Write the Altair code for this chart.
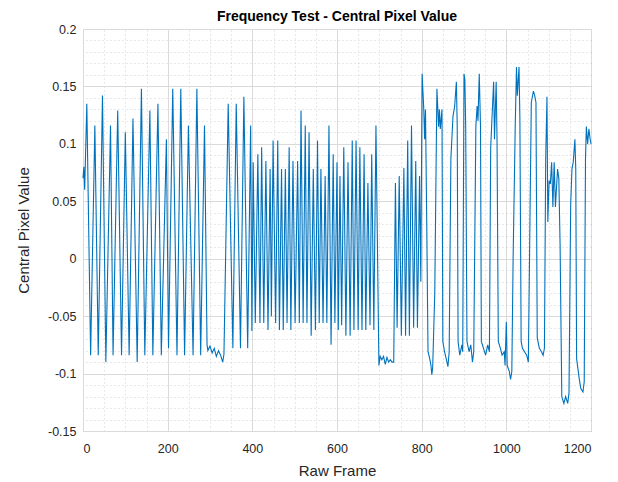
import altair as alt
import pandas as pd

# Key vertices of the trace (frame, value)
frames = [
    0, 2, 4, 9, 18, 28, 36, 46, 54, 65, 71, 82, 91, 100, 109, 118, 128, 138, 146, 158,
    165, 177, 185, 197, 202, 212, 222, 231, 240, 249, 260, 269, 278, 287, 293, 295, 300,
    305, 310, 315, 320, 325, 330, 333, 343, 354, 362, 372, 380, 389, 396,
    399, 402, 407, 413, 418, 422, 427, 432, 437, 442, 445, 449, 455, 460, 464, 469, 473,
    478, 482, 487, 491, 496, 501, 507, 511, 515, 520, 525, 529, 534, 539, 544, 549, 554,
    558, 562, 567, 572, 576, 581, 586, 591, 595, 600,
    603, 607, 611, 616, 621, 626, 631, 636, 640, 645, 650, 654, 659, 664, 668, 673, 678,
    682, 687, 692, 699, 702, 706, 710, 714, 718, 722, 726, 730, 734, 738, 742, 747, 752,
    758, 762, 767, 771, 776, 781, 786, 790, 795, 798,
    801, 805, 807, 809, 812, 815, 819, 822, 824, 826, 831, 836, 840, 842, 844, 848, 850,
    854, 858, 862, 865, 869, 874, 878, 882, 884, 886, 890, 895, 897, 900, 902, 904, 907,
    912, 916, 920, 923, 928, 931, 933, 936, 939, 941, 946, 951, 956, 960, 963, 967, 970,
    972, 976, 978, 981, 986, 990, 995, 997, 1000,
    1002, 1007, 1010, 1013, 1016, 1021, 1024, 1026, 1030, 1032, 1035, 1038, 1043, 1048,
    1052, 1056, 1059, 1064, 1067, 1070, 1073, 1078, 1083, 1087, 1090, 1093, 1096, 1098,
    1101, 1104, 1107, 1110, 1113, 1116, 1121, 1124, 1127, 1131, 1136, 1140, 1145, 1148,
    1152, 1155, 1158, 1162, 1164, 1166, 1172, 1176, 1181, 1184, 1187, 1189, 1192, 1195,
    1198, 1200,
]
values = [
    0.07, 0.08, 0.06, 0.135, -0.084, 0.116, -0.084, 0.142, -0.09, 0.116, -0.084, 0.129,
    -0.084, 0.110, -0.084, 0.122, -0.09, 0.148, -0.084, 0.129, -0.084, 0.135, -0.084,
    0.104, -0.078, 0.148, -0.084, 0.148, -0.084, 0.116, -0.084, 0.148, -0.084, 0.116,
    -0.075, -0.08, -0.076, -0.082, -0.078, -0.085, -0.08, -0.084, -0.09, -0.083, 0.135,
    -0.078, 0.135, -0.078, 0.141, -0.078, 0.116,
    -0.063, 0.084, -0.056, 0.091, -0.056, 0.097, -0.056, 0.085, -0.062, 0.078, -0.05,
    0.103, -0.056, 0.103, -0.062, 0.078, -0.062, 0.078, -0.056, 0.097, -0.062, 0.085,
    -0.056, 0.085, -0.056, 0.129, -0.056, 0.116, -0.056, 0.110, -0.067, 0.078, -0.062,
    0.103, -0.056, 0.078, -0.056, 0.072, -0.056, 0.116, -0.075, 0.091, -0.056, 0.084,
    -0.062, 0.072, -0.058, 0.097, -0.067, 0.084, -0.067, 0.103, -0.062, 0.103, -0.062,
    0.097, -0.062, 0.091, -0.062, 0.066, -0.058, 0.091, -0.062, 0.116, -0.093, -0.085,
    -0.088, -0.085, -0.092, -0.086, -0.09, -0.088, -0.09, -0.09, 0.066, -0.06, 0.072,
    -0.067, 0.079, -0.067, 0.103, -0.067, 0.116, -0.06, 0.085, -0.06, 0.072, -0.02,
    0.161, 0.13, 0.104, 0.13, 0.03, -0.081, -0.087, -0.093, -0.101, -0.095, -0.029, 0.148,
    0.115, 0.13, 0.113, 0.13, -0.072, -0.081, -0.087, -0.094, -0.081, 0.087, 0.124, 0.133,
    0.154, 0.115, -0.072, -0.084, -0.075, -0.081, 0.161, 0.156, 0.115, -0.072, -0.081,
    -0.075, -0.09, -0.081, 0.115, 0.133, 0.12, 0.161, 0.115, -0.072, -0.078, -0.084,
    -0.075, -0.081, 0.096, 0.13, 0.154, 0.104, 0.154, 0.104, -0.072, -0.078, -0.084,
    -0.081, -0.093, -0.055,
    -0.093, -0.098, -0.105, -0.098, 0.0, 0.115, 0.167, 0.142, 0.167, 0.122, -0.072,
    -0.078, -0.081, -0.084, -0.09, 0.04, 0.136, 0.146, 0.142, 0.136, -0.069, -0.078,
    -0.081, -0.084, -0.078, 0.087, 0.141, 0.032, 0.068, 0.065, 0.084, 0.045, 0.084, 0.045,
    0.078, 0.07, 0.012, -0.12, -0.126, -0.12, -0.126, -0.117, 0.047, 0.078, 0.084, 0.104,
    0.078, -0.087, -0.104, -0.113, -0.116, -0.107, 0.087, 0.115, 0.10, 0.113, 0.104, 0.10,
]

x_major = [0, 200, 400, 600, 800, 1000, 1200]
y_major = [-0.15, -0.1, -0.05, 0, 0.05, 0.1, 0.15, 0.2]
x_minor = list(range(0, 1201, 50))
y_minor = [round(-0.15 + 0.01 * i, 2) for i in range(36)]

df = pd.DataFrame({"frame": frames, "value": values})

xs = alt.Scale(domain=[0, 1200], nice=False, zero=False)
ys = alt.Scale(domain=[-0.15, 0.2], nice=False, zero=False)
txt = "#262626"
font = "Liberation Sans"

minor = alt.Chart(df).mark_line(opacity=0).encode(
    x=alt.X("frame:Q", scale=xs,
            axis=alt.Axis(orient="top", values=x_minor, grid=True, gridDash=[1, 3],
                          gridColor="#b4b4b4", gridWidth=0.6, labels=False, ticks=False,
                          domain=False, title=None)),
    y=alt.Y("value:Q", scale=ys,
            axis=alt.Axis(orient="right", values=y_minor, grid=True, gridDash=[1, 3],
                          gridColor="#b4b4b4", gridWidth=0.6, labels=False, ticks=False,
                          domain=False, title=None)),
)

major = alt.Chart(df).mark_line(color="#0072BD", strokeWidth=1.1).encode(
    x=alt.X("frame:Q", scale=xs,
            axis=alt.Axis(orient="bottom", values=x_major, grid=True, gridColor="#dadada",
                          gridWidth=1, ticks=False, domain=False, format="d",
                          labelFontSize=12.5, labelColor=txt, labelFont=font, labelPadding=11,
                          title="Raw Frame", titleFontSize=15, titleFontWeight="normal",
                          titleColor=txt, titleFont=font, titlePadding=9)),
    y=alt.Y("value:Q", scale=ys,
            axis=alt.Axis(orient="left", values=y_major, grid=True, gridColor="#dadada",
                          gridWidth=1, ticks=False, domain=False,
                          labelExpr="replace(format(datum.value, '~g'), '\u2212', '-')",
                          labelFontSize=12.5, labelColor=txt, labelFont=font, labelPadding=7,
                          title="Central Pixel Value", titleFontSize=15,
                          titleFontWeight="normal", titleColor=txt, titleFont=font,
                          titlePadding=16)),
)

chart = (
    alt.layer(minor, major)
    .resolve_axis(x="independent", y="independent")
    .properties(
        width=508,
        height=402,
        autosize=alt.AutoSizeParams(type="none"),
        padding={"left": 83, "top": 29, "right": 27, "bottom": 51},
        title=alt.TitleParams("Frequency Test - Central Pixel Value", fontSize=14,
                              fontWeight="bold", font=font, color="#000000",
                              anchor="middle", offset=8, dy=9),
    )
    .configure_view(stroke="#262626", strokeWidth=1)
    .configure(background="white")
)

chart.save("out.html", embed_options={"renderer": "svg", "actions": False})
